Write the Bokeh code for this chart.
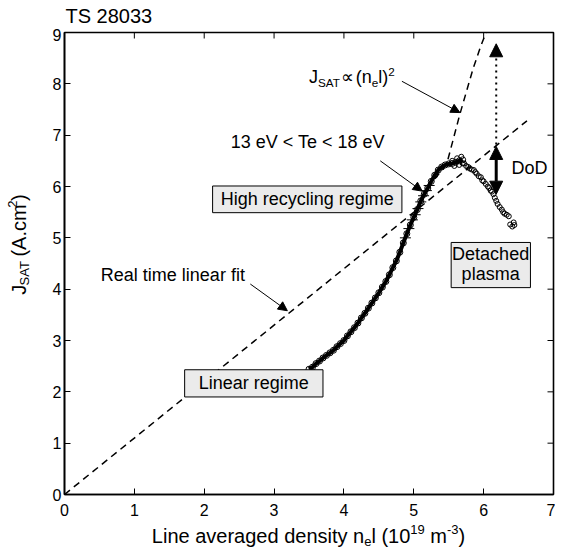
import math
from bokeh.plotting import figure
from bokeh.layouts import column, row
from bokeh.models import (Range1d, LinearAxis, FixedTicker, Label, BoxAnnotation,
                          Arrow, NormalHead)
from bokeh.embed import file_html
from bokeh.resources import INLINE

# ---------------- data ----------------
density_rise = [3.50, 3.55, 3.60, 3.65, 3.70, 3.75, 3.80, 3.85, 3.90, 3.95,
                4.00, 4.05, 4.10, 4.15, 4.20, 4.25, 4.30, 4.35, 4.40, 4.45,
                4.50, 4.55, 4.60, 4.65, 4.70, 4.75, 4.80, 4.85, 4.90, 4.95,
                5.00, 5.05, 5.10, 5.15, 5.20, 5.25, 5.30, 5.35, 5.40, 5.45,
                5.50, 5.55, 5.60, 5.65, 5.70]
jsat_rise = [2.44, 2.48, 2.55, 2.60, 2.66, 2.71, 2.76, 2.81, 2.88, 2.94,
             3.00, 3.09, 3.17, 3.25, 3.34, 3.44, 3.53, 3.63, 3.73, 3.83,
             3.93, 4.04, 4.15, 4.28, 4.42, 4.55, 4.72, 4.90, 5.08, 5.25,
             5.40, 5.55, 5.72, 5.85, 5.97, 6.10, 6.22, 6.32, 6.38, 6.42,
             6.44, 6.45, 6.47, 6.50, 6.52]
density_peak = [5.55, 5.62, 5.68, 5.70, 5.65, 5.58]
jsat_peak = [6.50, 6.55, 6.58, 6.45, 6.42, 6.40]
density_detach = [5.72, 5.75, 5.78, 5.80, 5.83, 5.86, 5.88, 5.90, 5.93, 5.96,
                  5.98, 6.00, 6.03, 6.06, 6.08, 6.10, 6.12, 6.14, 6.16, 6.18,
                  6.20, 6.23, 6.26, 6.28, 6.30, 6.33, 6.36, 6.38, 6.41, 6.43, 6.44]
jsat_detach = [6.45, 6.40, 6.38, 6.35, 6.33, 6.32, 6.28, 6.25, 6.20, 6.18,
               6.12, 6.10, 6.05, 6.00, 5.97, 5.92, 5.90, 5.85, 5.78, 5.72,
               5.66, 5.60, 5.55, 5.50, 5.47, 5.45, 5.42, 5.26, 5.22, 5.30, 5.25]
density_hatch = [4.88, 4.93, 4.98, 5.02, 5.06, 5.10, 5.14, 5.18, 5.22]
jsat_hatch = [5.00, 5.18, 5.35, 5.45, 5.57, 5.70, 5.82, 5.92, 6.02]
fit_density = [0.0, 6.62]
fit_jsat = [0.0, 7.28]
quad_density = [5.30, 5.47, 5.66, 5.85, 5.95, 6.00, 6.04]
quad_jsat = [6.15, 6.43, 7.41, 8.30, 8.70, 8.88, 9.00]
x_ticks = [0, 1, 2, 3, 4, 5, 6, 7]
y_ticks = [0, 1, 2, 3, 4, 5, 6, 7, 8, 9]

# ---------------- layout (pixels) ----------------
LEFT_W = 40          # width of the y-label strip
TOP_H = 28           # height of the title strip
MAIN_W, MAIN_H = 515, 494
ML, MR, MT, MB = 24, 2, 4, 28
BOT_H = 29
FW = MAIN_W - ML - MR
FH = MAIN_H - MT - MB
XPX = FW / 7.0
YPX = FH / 9.0
FONT = "Liberation Sans"

p = figure(width=MAIN_W, height=MAIN_H, output_backend="svg", toolbar_location=None,
           x_range=Range1d(0, 7), y_range=Range1d(0, 9),
           min_border_left=ML, min_border_right=MR, min_border_top=MT,
           min_border_bottom=MB, x_axis_type=None, y_axis_type=None)
p.outline_line_color = "black"
p.outline_line_width = 1.6
p.grid.visible = False
p.background_fill_color = "white"
p.border_fill_color = "white"


def style_axis(ax, ticks, standoff):
    ax.ticker = FixedTicker(ticks=ticks)
    ax.axis_line_width = 1.6
    ax.axis_line_color = "black"
    ax.major_tick_in = 6
    ax.major_tick_out = 0
    ax.major_tick_line_color = "black"
    ax.major_tick_line_width = 1
    ax.minor_tick_line_color = None
    ax.major_label_text_font = FONT
    ax.major_label_text_color = "black"
    ax.major_label_text_font_size = "16px"
    ax.major_label_standoff = standoff


xb = LinearAxis(); style_axis(xb, x_ticks, 9); p.add_layout(xb, "below")
yl = LinearAxis(); style_axis(yl, y_ticks, 3); p.add_layout(yl, "left")

# inward ticks on the top and right edges (outer half is clipped by the frame)
top_y = [y_ticks[-1]] * len(x_ticks)
right_x = [x_ticks[-1]] * len(y_ticks)
p.scatter(x_ticks, top_y, marker="dash", angle=math.pi / 2, size=12,
          line_color="black", line_width=1)
p.scatter(right_x, y_ticks, marker="dash", size=12, line_color="black", line_width=1)

# ---------------- lines & data ----------------
p.line(fit_density, fit_jsat, line_color="black", line_width=1.5, line_dash="7 5")
p.line(quad_density, quad_jsat, line_color="black", line_width=1.5, line_dash="7 5")
p.line(density_rise, jsat_rise, line_color="black", line_width=4)
p.scatter(density_rise, jsat_rise, marker="circle", size=6, line_color="black",
          fill_alpha=0, line_width=1)
p.scatter(density_hatch, jsat_hatch, marker="dash", size=11, line_color="black",
          line_width=1)
p.scatter(density_peak, jsat_peak, marker="circle", size=5, line_color="black",
          fill_alpha=0, line_width=1)
p.scatter(density_detach, jsat_detach, marker="circle", size=5, line_color="black",
          fill_alpha=0, line_width=1)

# ---------------- boxes ----------------
for l, r, b, t in [(1.72, 3.70, 1.90, 2.43), (2.12, 4.83, 5.49, 6.01), (5.535, 6.67, 4.03, 4.91)]:
    p.add_layout(BoxAnnotation(left=l, right=r, bottom=b, top=t, fill_color="#ebebeb",
                               fill_alpha=1, line_color="black", line_width=1, line_alpha=1))

# ---------------- arrows ----------------
def pointer(x0, y0, x1, y1):
    p.add_layout(Arrow(end=NormalHead(size=9, fill_color="black", line_color="black", line_width=1),
                       x_start=x0, y_start=y0, x_end=x1, y_end=y1,
                       line_color="black", line_width=1))

pointer(4.83, 8.05, 5.66, 7.44)
pointer(4.52, 6.50, 5.12, 5.91)
pointer(2.66, 4.10, 3.19, 3.58)

p.add_layout(Arrow(end=NormalHead(size=13, fill_color="black", line_color="black", line_width=1),
                   x_start=6.18, y_start=6.82, x_end=6.18, y_end=8.78,
                   line_color="black", line_width=2, line_dash="dotted"))
p.add_layout(Arrow(start=NormalHead(size=13, fill_color="black", line_color="black", line_width=1),
                   end=NormalHead(size=13, fill_color="black", line_color="black", line_width=1),
                   x_start=6.18, y_start=5.85, x_end=6.18, y_end=6.78,
                   line_color="black", line_width=3))

# ---------------- texts ----------------
CW = {" ": 278, "(": 333, ")": 333, ".": 278, "-": 333, "<": 584, "\u221d": 560,
      "A": 667, "J": 500, "S": 667, "T": 611, "L": 556, "D": 722, "H": 722,
      "a": 556, "c": 500, "d": 556, "e": 556, "g": 556, "h": 556, "i": 222,
      "l": 222, "m": 833, "n": 556, "o": 556, "p": 556, "r": 333, "s": 500,
      "t": 278, "v": 500, "y": 500, "V": 667, "f": 278}


def tw(txt, size):
    return sum(CW.get(ch, 556) for ch in txt) / 1000.0 * size


def label(fig, x, y, txt, size, align="left", baseline="middle", angle=0.0):
    fig.add_layout(Label(x=x, y=y, text=txt, text_font=FONT, text_font_size=f"{size}px",
                         text_color="black", text_align=align, text_baseline=baseline,
                         angle=angle))


def rich(fig, parts, x0, y0, size, sx=1.0, sy=1.0, angle=0.0, center=False):
    """Text with sub/superscripts, anchored at its vertical middle.
    sx, sy = pixels per data unit."""
    sizes = [size if k == "n" else size * 0.65 for _, k in parts]
    total = sum(tw(t, s) for (t, _), s in zip(parts, sizes))
    pos = -total / 2 if center else 0.0
    for (txt, kind), s in zip(parts, sizes):
        body = txt.lstrip(" ")
        pos += tw(" " * (len(txt) - len(body)), s)
        if kind == "n":
            off = 0.0
        elif kind == "sub":
            off = -0.30 * size
        else:
            off = 0.28 * size
        if angle == 0.0:
            x, y = x0 + pos / sx, y0 + off / sy
        else:
            x, y = x0 - off / sx, y0 + pos / sy
        label(fig, x, y, body, round(s, 1), angle=angle)
        pos += tw(body, s)


def text_fig(w, h):
    f = figure(width=w, height=h, output_backend="svg", toolbar_location=None,
               x_range=Range1d(0, w), y_range=Range1d(0, h), min_border=0,
               x_axis_type=None, y_axis_type=None)
    f.outline_line_color = None
    f.grid.visible = False
    f.background_fill_color = "white"
    f.border_fill_color = "white"
    return f


# annotations inside the frame
rich(p, [("J", "n"), ("SAT", "sub"), ("\u221d", "n"), (" (n", "n"), ("e", "sub"),
         ("l)", "n"), ("2", "sup")], 3.50, 8.13, 18, sx=XPX, sy=YPX)
label(p, 2.38, 6.86, "13 eV < Te < 18 eV", 18)
label(p, 0.52, 4.27, "Real time linear fit", 18)
label(p, 3.475, 5.75, "High recycling regime", 18, align="center")
label(p, 2.71, 2.165, "Linear regime", 18, align="center")
label(p, 6.10, 4.68, "Detached", 18, align="center")
label(p, 6.10, 4.29, "plasma", 18, align="center")
label(p, 6.40, 6.37, "DoD", 18)

# title strip
top = text_fig(LEFT_W + MAIN_W, TOP_H)
label(top, 65, TOP_H - 15.8, "TS 28033", 20)

# y-label strip
left = text_fig(LEFT_W, MAIN_H)
rich(left, [("J", "n"), ("SAT", "sub"), (" (A.cm", "n"), ("2", "sup"), (")", "n")],
     18, MAIN_H - 227, 20, angle=math.pi / 2, center=True)

# x-label strip
bottom = text_fig(LEFT_W + MAIN_W, BOT_H)
rich(bottom, [("Line averaged density n", "n"), ("e", "sub"), ("l (10", "n"), ("19", "sup"),
              (" m", "n"), ("-3", "sup"), (")", "n")], 308, BOT_H - 13, 20, center=True)

layout = column(top, row(left, p, spacing=0), bottom, spacing=0)
open("out.html", "w").write(file_html(layout, INLINE))
